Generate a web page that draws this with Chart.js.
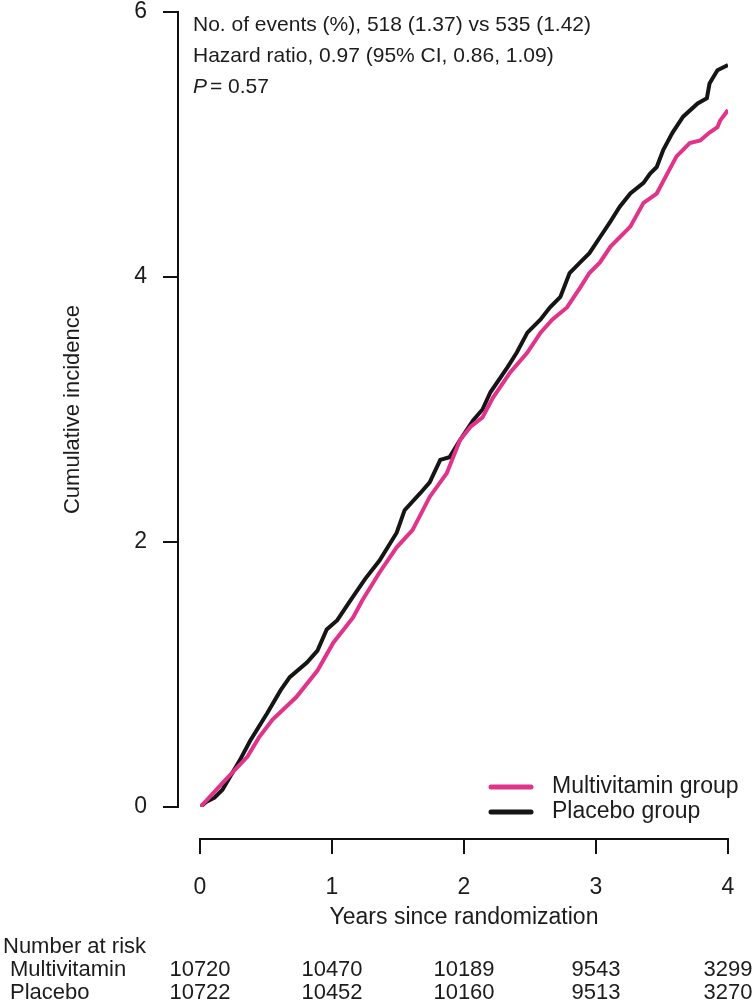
<!DOCTYPE html>
<html>
<head>
<meta charset="utf-8">
<script src="https://cdn.jsdelivr.net/npm/chart.js@4/dist/chart.umd.min.js"></script>
<style>
  html, body { margin: 0; padding: 0; background: #fff; }
  canvas { display: block; }
</style>
</head>
<body>
<canvas id="kmChart" width="756" height="1003"></canvas>
<script>
  // curves (years, cumulative incidence %)

  var placeboYears = [0, 0.05, 0.11, 0.17, 0.30, 0.38, 0.51, 0.61, 0.68, 0.81, 0.89, 0.96, 1.04, 1.14, 1.25, 1.36,
    1.49, 1.55, 1.67, 1.74, 1.82, 1.89, 1.97, 2.07, 2.14, 2.20, 2.33, 2.40, 2.48, 2.58, 2.65, 2.73, 2.80,
    2.88, 2.95, 3.03, 3.11, 3.18, 3.26, 3.36, 3.41, 3.46, 3.51, 3.58, 3.66, 3.77, 3.84, 3.86, 3.92, 4.0];
  var placeboInc = [0, 0.04, 0.07, 0.13, 0.35, 0.50, 0.71, 0.88, 0.98, 1.09, 1.18, 1.34, 1.41, 1.56, 1.72, 1.86,
    2.07, 2.24, 2.37, 2.45, 2.62, 2.64, 2.77, 2.92, 3.00, 3.13, 3.32, 3.43, 3.58, 3.68, 3.77, 3.85, 4.03,
    4.11, 4.18, 4.30, 4.42, 4.53, 4.63, 4.71, 4.78, 4.83, 4.96, 5.09, 5.21, 5.31, 5.35, 5.46, 5.56, 5.60];

  var multiYears = [0, 0.05, 0.17, 0.36, 0.45, 0.55, 0.73, 0.89, 1.01, 1.16, 1.23, 1.36, 1.49, 1.61, 1.74, 1.87,
    1.97, 2.05, 2.14, 2.22, 2.35, 2.48, 2.58, 2.67, 2.78, 2.88, 2.95, 3.03, 3.11, 3.18, 3.26, 3.36, 3.46,
    3.54, 3.61, 3.71, 3.79, 3.86, 3.92, 3.94, 4.0];
  var multiInc = [0, 0.05, 0.18, 0.38, 0.53, 0.66, 0.83, 1.03, 1.24, 1.43, 1.56, 1.77, 1.96, 2.09, 2.34, 2.52,
    2.77, 2.87, 2.94, 3.09, 3.28, 3.43, 3.58, 3.68, 3.77, 3.92, 4.03, 4.11, 4.23, 4.30, 4.38, 4.56, 4.63,
    4.78, 4.91, 5.01, 5.03, 5.09, 5.13, 5.18, 5.26];

  // number at risk table
  var riskYears = [0, 1, 2, 3, 4];
  var multiAtRisk = [10720, 10470, 10189, 9543, 3299];
  var placeboAtRisk = [10722, 10452, 10160, 9513, 3270];

  var statLines = ["No. of events (%), 518 (1.37) vs 535 (1.42)", "Hazard ratio, 0.97 (95% CI, 0.86, 1.09)"];
  var pValue = "0.57";

  var pink = "#e2338a";
  var black = "#151515";
  var textColor = "#1c1c1c";
  var fontFamily = "'Liberation Sans', Arial, sans-serif";

  function toPoints(xs, ys) {
    return xs.map(function (x, i) { return {x: x, y: ys[i]}; });
  }

  // R style axes, stats text, legend and risk table
  var extras = {
    id: 'extras',
    afterDraw: function (chart) {
      var ctx = chart.ctx;
      var xs = chart.scales.x, ys = chart.scales.y;
      var area = chart.chartArea;
      ctx.save();

      // y axis (detached to the left)
      var ax = area.left - 22;
      ctx.strokeStyle = "#111";
      ctx.lineWidth = 2;
      ctx.beginPath();
      ctx.moveTo(ax, ys.getPixelForValue(6));
      ctx.lineTo(ax, ys.getPixelForValue(0));
      [0, 2, 4, 6].forEach(function (v) {
        var p = ys.getPixelForValue(v);
        ctx.moveTo(ax - 15, p);
        ctx.lineTo(ax + 1, p);
      });
      ctx.stroke();

      // x axis (detached below)
      var ay = area.bottom + 32;
      ctx.beginPath();
      ctx.moveTo(xs.getPixelForValue(0) - 1, ay);
      ctx.lineTo(xs.getPixelForValue(4) + 1, ay);
      riskYears.forEach(function (t) {
        var p = xs.getPixelForValue(t);
        ctx.moveTo(p, ay);
        ctx.lineTo(p, ay + 15);
      });
      ctx.stroke();

      // stats text
      ctx.fillStyle = textColor;
      ctx.textBaseline = "middle";
      ctx.textAlign = "left";
      ctx.font = "21px " + fontFamily;
      var tx = area.left - 7;
      ctx.fillText(statLines[0], tx, 25);
      ctx.fillText(statLines[1], tx, 56);
      ctx.font = "italic 21px " + fontFamily;
      ctx.fillText("P", tx, 87);
      var pw = ctx.measureText("P").width;
      ctx.font = "21px " + fontFamily;
      ctx.fillText("= " + pValue, tx + pw + 3, 87);

      // legend
      ctx.font = "23px " + fontFamily;
      ctx.lineCap = "round";
      ctx.lineWidth = 5;
      chart.data.datasets.forEach(function (ds, i) {
        var ly = 787 + i * 25;
        ctx.strokeStyle = ds.borderColor;
        ctx.beginPath();
        ctx.moveTo(491, ly);
        ctx.lineTo(531, ly);
        ctx.stroke();
        ctx.fillText(ds.label, 552, ly);
      });

      // number at risk
      ctx.font = "22px " + fontFamily;
      ctx.fillText("Number at risk", 3, 947);
      ctx.fillText("Multivitamin", 10, 970);
      ctx.fillText("Placebo", 10, 993);
      ctx.textAlign = "center";
      riskYears.forEach(function (t, i) {
        var p = xs.getPixelForValue(t);
        ctx.fillText(String(multiAtRisk[i]), p, 970);
        ctx.fillText(String(placeboAtRisk[i]), p, 993);
      });
      ctx.restore();
    }
  };

  var config = {
    type: 'line',
    data: {
      datasets: [{
        label: 'Multivitamin group',
        data: toPoints(multiYears, multiInc),
        borderColor: pink,
        backgroundColor: pink,
        borderWidth: 4,
        pointRadius: 0,
        tension: 0
      }, {
        label: 'Placebo group',
        data: toPoints(placeboYears, placeboInc),
        borderColor: black,
        backgroundColor: black,
        borderWidth: 4,
        pointRadius: 0,
        tension: 0
      }]
    },
    options: {
      responsive: false,
      animation: false,
      devicePixelRatio: 1,
      layout: { padding: { top: 12, right: 28, left: 0, bottom: 0 } },
      plugins: { legend: { display: false }, tooltip: { enabled: false } },
      scales: {
        x: {
          type: 'linear',
          min: 0,
          max: 4,
          grid: { display: false, drawTicks: false },
          border: { display: false },
          ticks: {
            stepSize: 1,
            padding: 67,
            color: textColor,
            font: { size: 23, family: fontFamily }
          },
          title: {
            display: true,
            text: 'Years since randomization',
            color: textColor,
            font: { size: 23, family: fontFamily },
            padding: { top: 0, bottom: 72 }
          },
          afterFit: function (scale) {
            scale.height = 196;
            scale.paddingLeft = 0;
            scale.paddingRight = 0;
          }
        },
        y: {
          min: 0,
          max: 6,
          grid: { display: false, drawTicks: false },
          border: { display: false },
          ticks: {
            stepSize: 2,
            padding: 53,
            color: textColor,
            font: { size: 23, family: fontFamily }
          },
          title: {
            display: true,
            text: 'Cumulative incidence',
            color: textColor,
            font: { size: 22, family: fontFamily },
            padding: { top: 60, bottom: 0 }
          },
          afterFit: function (scale) {
            scale.width = 200;
            scale.paddingTop = 0;
            scale.paddingBottom = 0;
          }
        }
      }
    },
    plugins: [extras]
  };

  var kmChart = new Chart(document.getElementById('kmChart'), config);
</script>
</body>
</html>
